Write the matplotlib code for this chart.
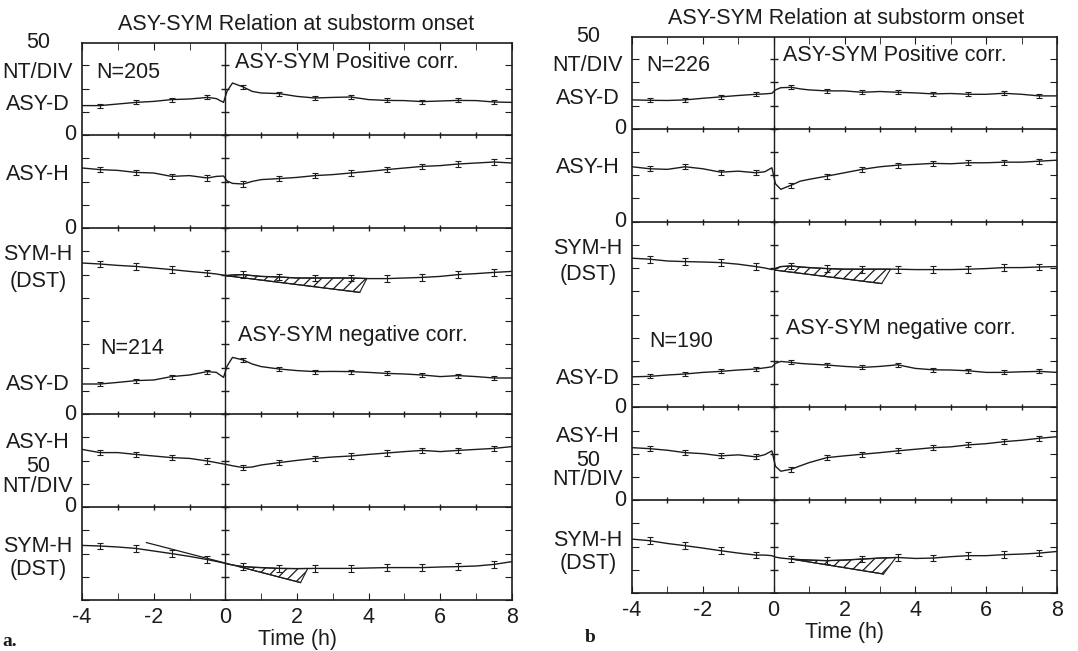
import numpy as np
import matplotlib.pyplot as plt
from matplotlib.transforms import offset_copy

plt.rcParams['font.family'] = ['Liberation Sans', 'DejaVu Sans']
plt.rcParams['axes.unicode_minus'] = False
plt.rcParams['hatch.linewidth'] = 0.9

# time grid (hours from substorm onset)
T = [-4, -3.5, -3, -2.5, -2, -1.5, -1, -0.5, -0.25, -0.05, 0.05, 0.2, 0.5, 0.75,
     1, 1.5, 2, 2.5, 3, 3.5, 4, 4.5, 5, 5.5, 6, 6.5, 7, 7.5, 8]
ERR_T = [-3.5, -2.5, -1.5, -0.5, 0.5, 1.5, 2.5, 3.5, 4.5, 5.5, 6.5, 7.5]

# panel a, positive correlation (nT)
A_UP_D = [14.7, 14.7, 15.5, 16.3, 16.8, 17.7, 18.0, 18.8, 18.2, 16.3, 22.0, 26.0, 24.0, 21.8,
          21.0, 20.7, 19.3, 18.5, 18.8, 19.0, 17.7, 17.3, 17.2, 16.7, 17.0, 17.3, 17.2, 16.5, 16.3]
A_UP_H = [30.0, 29.2, 28.8, 27.8, 27.5, 25.8, 26.2, 25.0, 25.8, 26.0, 23.5, 22.3, 22.0, 23.3,
          24.2, 24.7, 25.3, 26.2, 26.7, 27.5, 28.3, 29.2, 30.0, 30.8, 31.2, 32.0, 32.5, 33.0, 32.5]
A_UP_S = [-17.5, -18.0, -18.7, -19.2, -20.0, -20.8, -21.7, -22.5, -23.0, -23.6, -23.8, -23.5, -23.3, -23.8,
          -24.2, -24.5, -25.0, -25.0, -25.0, -25.0, -25.3, -25.3, -25.0, -24.7, -24.2, -23.3, -22.8, -22.2, -21.7]
# panel a, negative correlation
A_LO_D = [15.0, 15.0, 15.8, 16.7, 17.0, 18.7, 19.5, 21.2, 20.8, 18.3, 24.0, 28.3, 27.0, 25.0,
          23.7, 22.5, 21.7, 21.2, 21.3, 21.2, 20.8, 20.3, 20.0, 19.5, 18.7, 19.2, 18.7, 18.0, 18.0]
A_LO_H = [28.8, 27.2, 27.2, 26.3, 25.5, 24.7, 24.3, 23.0, 22.2, 21.5, 21.2, 20.6, 19.7, 20.0,
          21.0, 22.2, 23.3, 24.3, 25.0, 25.5, 26.3, 27.0, 27.7, 28.3, 27.7, 28.3, 28.8, 29.3, 30.2]
A_LO_S = [-19.2, -19.5, -20.0, -20.7, -22.0, -23.3, -24.7, -26.3, -27.2, -28.0, -28.5, -29.0, -29.8, -30.1,
          -30.3, -30.7, -30.8, -30.7, -30.7, -30.7, -30.5, -30.3, -30.3, -30.3, -30.0, -29.8, -29.5, -28.7, -27.3]

# panel b, positive correlation
B_UP_D = [14.5, 14.3, 14.2, 14.5, 15.3, 16.0, 16.7, 17.3, 17.5, 17.8, 19.5, 20.6, 20.8, 20.0,
          19.5, 19.0, 19.0, 18.3, 18.7, 18.3, 18.0, 17.5, 17.7, 17.3, 17.3, 17.8, 17.3, 16.5, 16.5]
B_UP_H = [27.5, 26.5, 26.2, 27.5, 26.5, 24.8, 25.3, 24.5, 25.0, 27.0, 19.0, 16.2, 18.3, 20.3,
          21.2, 22.8, 24.5, 26.2, 27.5, 28.3, 28.7, 29.2, 29.0, 29.5, 29.5, 29.8, 29.8, 30.3, 30.8]
B_UP_S = [-18.3, -18.8, -19.7, -20.0, -20.2, -20.5, -21.3, -22.5, -23.2, -24.0, -23.5, -22.5, -22.2, -22.7,
          -23.0, -23.5, -23.8, -23.8, -23.8, -23.8, -24.0, -24.0, -24.0, -23.8, -23.5, -23.0, -23.0, -22.7, -22.5]
# panel b, negative correlation
B_LO_D = [15.3, 15.5, 16.2, 16.7, 17.5, 18.0, 18.7, 19.2, 19.8, 20.3, 22.0, 23.0, 22.5, 22.0,
          21.7, 21.2, 20.5, 20.0, 20.5, 21.3, 19.5, 18.8, 18.7, 18.3, 17.5, 17.5, 17.8, 18.0, 17.5]
B_LO_H = [26.3, 25.8, 25.0, 23.8, 23.3, 22.2, 22.7, 21.7, 22.8, 24.7, 17.0, 14.5, 15.5, 17.2,
          18.8, 21.3, 22.2, 23.0, 23.8, 24.7, 25.5, 26.3, 26.7, 27.7, 28.3, 29.3, 30.0, 31.0, 31.8]
B_LO_S = [-19.5, -20.3, -21.7, -22.8, -24.0, -25.3, -26.5, -27.5, -27.5, -27.8, -28.5, -29.0, -29.5, -29.8,
          -30.0, -30.3, -30.0, -29.5, -29.0, -28.7, -29.2, -29.0, -28.3, -27.8, -27.8, -27.3, -27.0, -26.5, -25.7]

# baselines (zero lines) of the stacked traces, 50 nT/div layout
BASES = [232.5, 186.0, 93.0, 46.5]
ERR_D, ERR_H, ERR_S = 1.0, 1.3, 1.7

# extrapolated SYM-H trend lines: (t0, y0, t1, y1, hatch start, hatch right edge)
A_UP_TREND = (0.0, -23.8, 3.75, -32.2, 0.0, 3.95)
A_LO_TREND = (-2.2, -17.8, 2.1, -37.8, 0.4, 2.3)
B_UP_TREND = (0.05, -24.3, 3.05, -31.0, 0.05, 3.3)
B_LO_TREND = (0.5, -29.5, 3.1, -37.0, 0.5, 3.45)

INK = '#1c1c1c'
FS = 15.5

fig = plt.figure(figsize=(10.78, 6.51), dpi=100)


def hatch_area(ax, vals, base, trend):
    t0, y0, t1, y1, hs, hr = trend
    y = np.array(vals) + base
    ax.plot([t0, t1], [y0 + base, y1 + base], color=INK, lw=0.9)
    yline = lambda tt: y0 + (y1 - y0) * (tt - t0) / (t1 - t0) + base
    inner = [tt for tt in T if hs < tt < hr]
    top = [(hs, np.interp(hs, T, y))] + [(tt, np.interp(tt, T, y)) for tt in inner] + [(hr, np.interp(hr, T, y))]
    poly = top + [(t1, y1 + base), (hs, yline(hs))]
    xs, ys = zip(*poly)
    ax.fill(xs, ys, facecolor='none', edgecolor=INK, hatch='///', lw=0.8)


def draw_panel(rect, series, trends, n_up, n_lo, title_xy, title):
    ax = fig.add_axes(rect)
    ax.set_xlim(-4, 8)
    ax.set_ylim(0, 278.5)
    for sp in ax.spines.values():
        sp.set_linewidth(1.2)
        sp.set_color(INK)
    ax.axvline(0, color=INK, lw=1.0)
    for b in BASES:
        ax.axhline(b, color=INK, lw=1.2)
        ax.plot(np.arange(-3, 8), [b] * 11, ls='none', marker='|', ms=5, mew=1.0, color=INK)
    yt = np.arange(0, 279, 46.5 / 4)
    ax.plot([0] * len(yt), yt, ls='none', marker='_', ms=6, mew=1.0, color=INK)

    for vals, base, err in series:
        y = np.array(vals) + base
        ax.plot(T, y, color=INK, lw=1.0)
        ax.errorbar(ERR_T, np.interp(ERR_T, T, y), yerr=err, fmt='none',
                    ecolor=INK, elinewidth=0.8, capsize=2, capthick=0.8)

    hatch_area(ax, series[2][0], series[2][1], trends[0])
    hatch_area(ax, series[5][0], series[5][1], trends[1])

    ax.set_yticks(yt)
    ax.set_yticklabels([])
    ax.tick_params(axis='y', direction='in', length=5, left=True, right=True, color=INK)
    ax.set_xticks([-4, -2, 0, 2, 4, 6, 8])
    ax.set_xticks(np.arange(-4, 9), minor=True)
    ax.tick_params(axis='x', which='both', direction='in', top=True, length=5,
                   labelsize=FS, pad=5, color=INK, labelcolor=INK)
    ax.set_xlabel('Time (h)', fontsize=FS, labelpad=1, color=INK)

    tr_c = offset_copy(ax.get_yaxis_transform(), fig=fig, x=-44, units='dots')
    tr_r = offset_copy(ax.get_yaxis_transform(), fig=fig, x=-6, units='dots')
    for txt, yy in [('50', 278.5), ('NT/DIV', 264), ('ASY-D', 247.5), ('ASY-H', 213),
                    ('SYM-H', 172.5), ('(DST)', 159.5), ('ASY-D', 107.5), ('ASY-H', 78.5),
                    ('50', 66.5), ('NT/DIV', 57), ('SYM-H', 26.5), ('(DST)', 15)]:
        ax.text(0, yy, txt, transform=tr_c, ha='center', va='center', fontsize=FS, color=INK)
    for yy in BASES:
        ax.text(0, yy, '0', transform=tr_r, ha='right', va='center', fontsize=FS, color=INK)

    ax.text(-3.6, 264, n_up, ha='left', va='center', fontsize=FS, color=INK)
    ax.text(0.27, 269, 'ASY-SYM Positive corr.', ha='left', va='center', fontsize=FS, color=INK)
    ax.text(-3.5, 126, n_lo, ha='left', va='center', fontsize=FS, color=INK)
    ax.text(0.35, 132.5, 'ASY-SYM negative corr.', ha='left', va='center', fontsize=FS, color=INK)
    fig.text(title_xy[0], title_xy[1], title, ha='center', va='center', fontsize=15.5, color=INK)
    return ax


TITLE = 'ASY-SYM Relation at substorm onset'
draw_panel([82 / 1078, 51 / 651, 430 / 1078, 557 / 651],
           [(A_UP_D, BASES[0], ERR_D), (A_UP_H, BASES[1], ERR_H), (A_UP_S, BASES[1], ERR_S),
            (A_LO_D, BASES[2], ERR_D), (A_LO_H, BASES[3], ERR_H), (A_LO_S, BASES[3], ERR_S)],
           [A_UP_TREND, A_LO_TREND], 'N=205', 'N=214', (296 / 1078, 1 - 24 / 651), TITLE)
draw_panel([632 / 1078, 58 / 651, 425 / 1078, 556 / 651],
           [(B_UP_D, BASES[0], ERR_D), (B_UP_H, BASES[1], ERR_H), (B_UP_S, BASES[1], ERR_S),
            (B_LO_D, BASES[2], ERR_D), (B_LO_H, BASES[3], ERR_H), (B_LO_S, BASES[3], ERR_S)],
           [B_UP_TREND, B_LO_TREND], 'N=226', 'N=190', (846 / 1078, 1 - 18 / 651), TITLE)

fig.text(2 / 1078, 1 - 642 / 651, 'a.', ha='left', va='center', fontsize=14,
         fontweight='bold', family=['Liberation Serif', 'DejaVu Serif'], color=INK)
fig.text(585 / 1078, 1 - 638 / 651, 'b', ha='left', va='center', fontsize=14,
         fontweight='bold', family=['Liberation Serif', 'DejaVu Serif'], color=INK)

fig.savefig('out.png', dpi=100, facecolor='white')
